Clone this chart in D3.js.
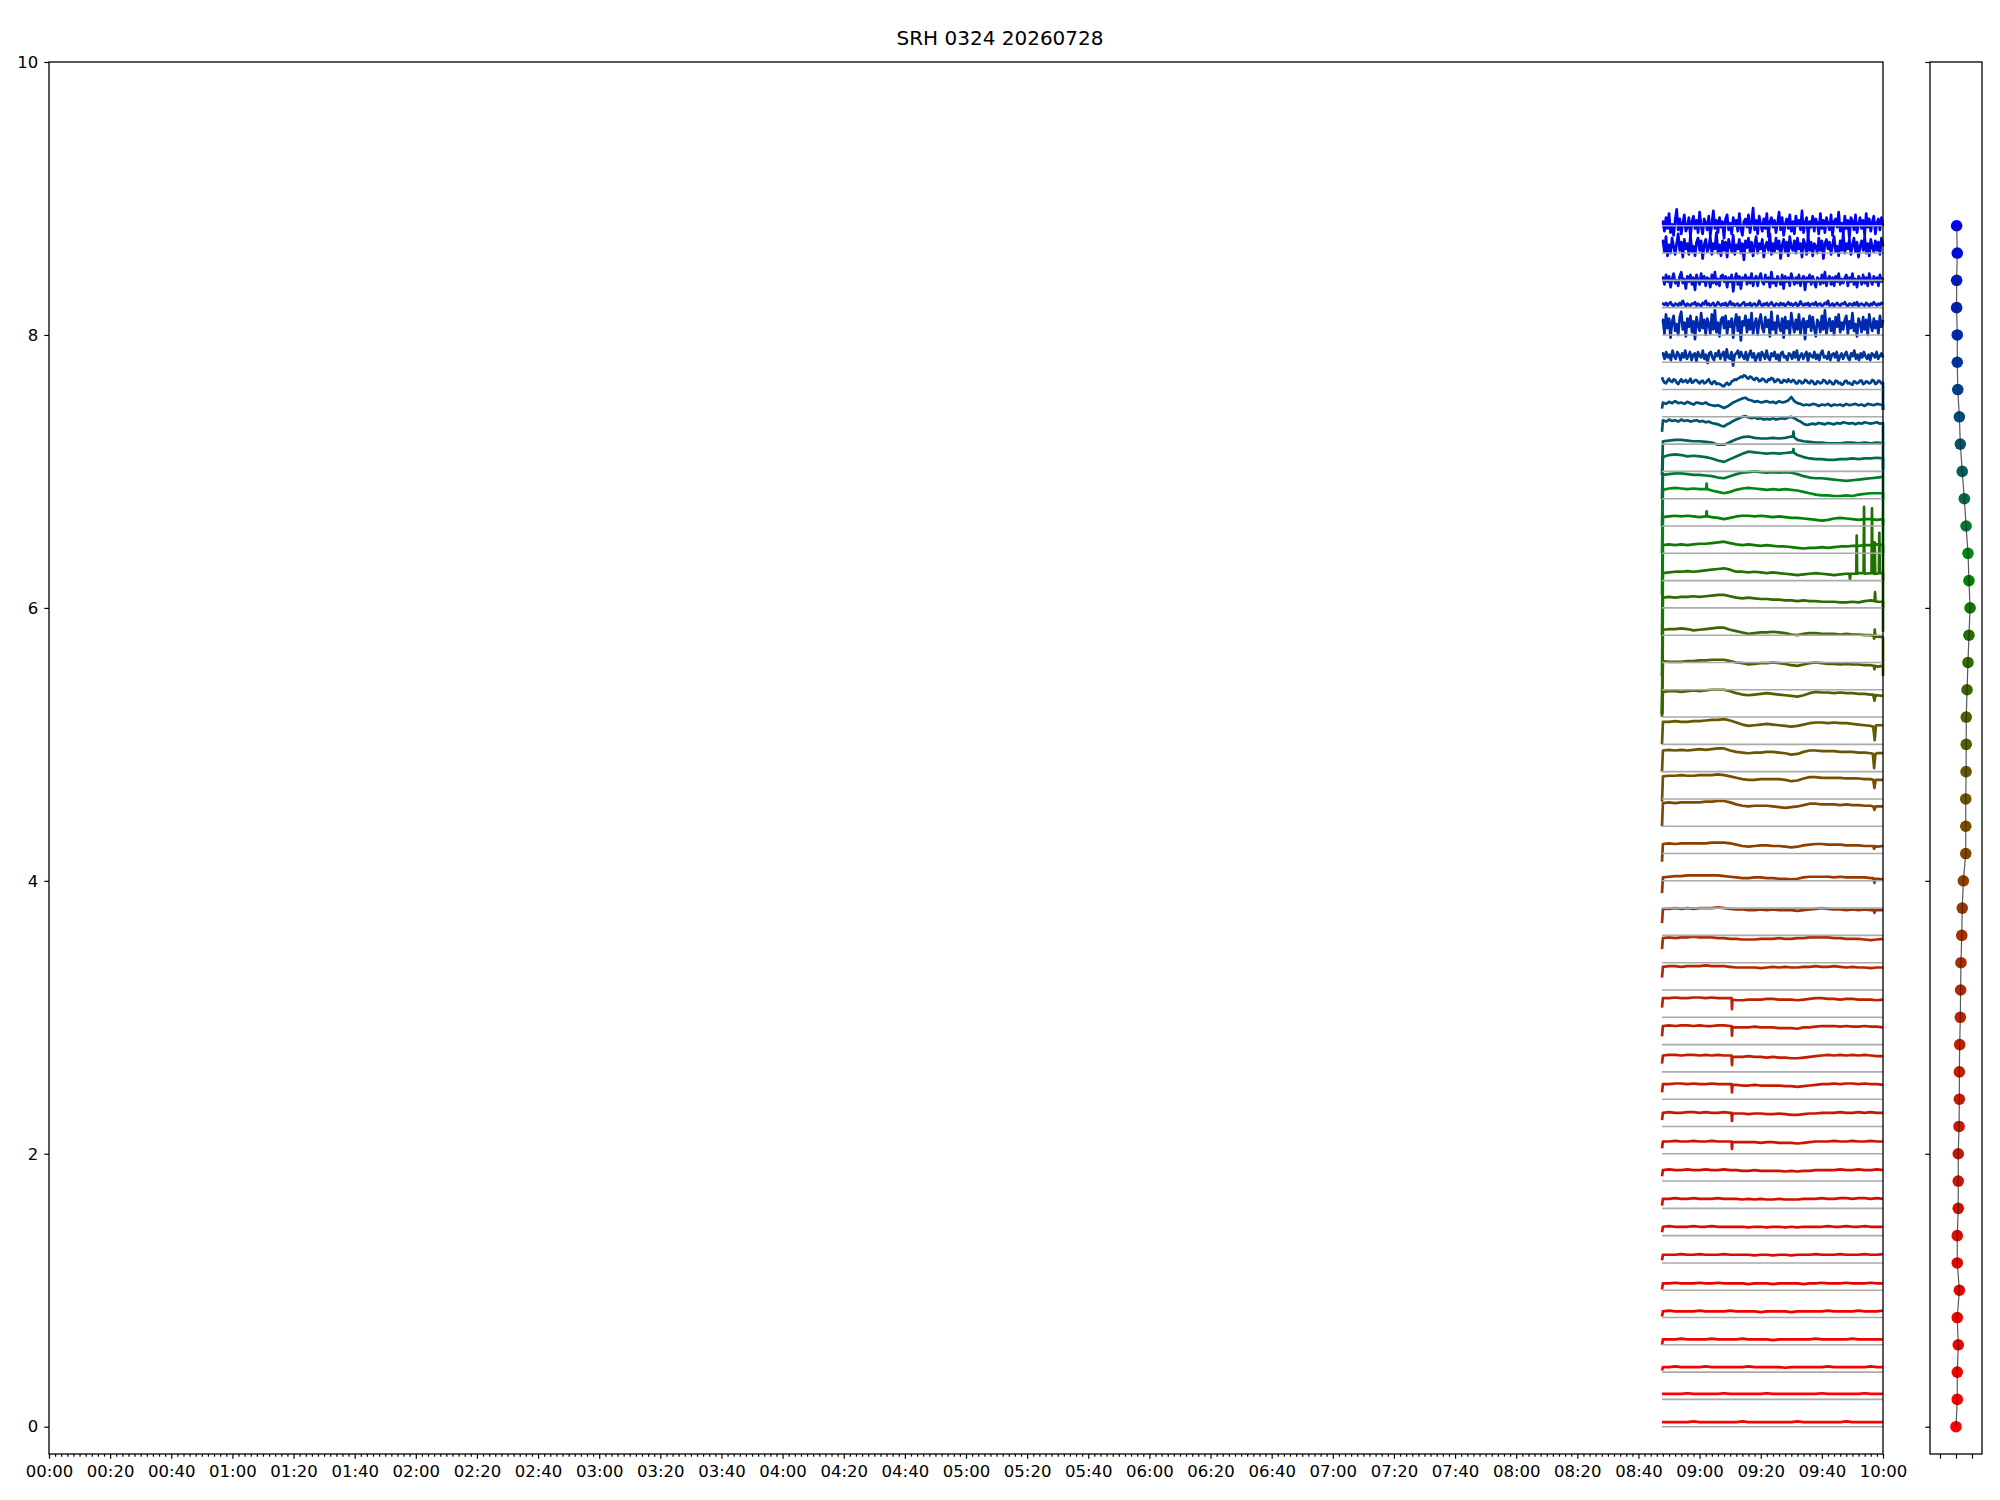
<!DOCTYPE html>
<html><head><meta charset="utf-8">
<script src="https://cdn.jsdelivr.net/npm/d3@7/dist/d3.min.js"></script>
<style>body{margin:0;background:#fff}</style>
</head><body>
<svg id="c" width="2000" height="1500"></svg>
<script>
// ---------------- DATA ----------------
const chartTitle = "SRH 0324 20260728";
const xTickMinutes = [0,20,40,60,80,100,120,140,160,180,200,220,240,260,280,300,320,340,360,380,400,420,440,460,480,500,520,540,560,580,600];
const xTickLabels = ["00:00","00:20","00:40","01:00","01:20","01:40","02:00","02:20","02:40","03:00","03:20","03:40","04:00","04:20","04:40","05:00","05:20","05:40","06:00","06:20","06:40","07:00","07:20","07:40","08:00","08:20","08:40","09:00","09:20","09:40","10:00"];
const yTicks = [0,2,4,6,8,10];
const sideXTicks = [-1,0,1];

// time span of the recording (minutes after 00:00)
const traceStart = 527.7, gridStart = 528, traceEnd = 600;

// channel baselines (grey zero lines)
const baselines = [0,0.2,0.4,0.6,0.8,1.0,1.2,1.4,1.6,1.8,2.0,2.2,2.4,2.6,2.8,3.0,3.2,3.4,3.6,3.8,4.0,4.2,4.4,4.6,4.8,5.0,5.2,5.4,5.6,5.8,6.0,6.2,6.4,6.6,6.8,7.0,7.2,7.4,7.6,7.8,8.0,8.2,8.4,8.6,8.8];
// mean level of each trace
const levels = [0.034,0.24,0.437,0.64,0.845,1.05,1.26,1.465,1.67,1.88,2.09,2.30,2.51,2.72,2.936,3.14,3.37,3.58,3.795,4.03,4.27,4.57,4.77,4.955,5.17,5.39,5.61,5.84,6.075,6.26,6.46,6.67,6.87,6.98,7.11,7.226,7.365,7.50,7.66,7.845,8.07,8.22,8.40,8.64,8.80];
// first sample (hundredths relative to level), null = none
const firstSample = [null,null,-2.5,-4,-3.7,-4.4,-4,-4,-5,-4.5,-5,-5.4,-6,-6,-7.5,-7,-8,-8,-10.5,-12,-13,-17,-19,-15.5,-17,-19,-39,-62,-85,-76,-66,-57,-47,-38,-31,-25,-7.5,-4,3,null,null,null,null,null,null];
// last sample (hundredths relative to level), null = none
const lastSample = [null,null,null,null,null,null,null,null,null,null,null,null,null,null,null,null,null,null,null,null,null,null,null,null,null,null,null,-34,-25,-26,-26,-27,-27,-19,-15,-21,-17,-5,-21,null,null,null,null,null,null];
// side panel values per channel
const sideValues = [0.00,0.08,0.08,0.14,0.08,0.21,0.08,0.08,0.14,0.14,0.14,0.19,0.21,0.21,0.23,0.27,0.29,0.31,0.36,0.39,0.46,0.61,0.61,0.61,0.63,0.64,0.64,0.69,0.75,0.81,0.88,0.81,0.75,0.63,0.52,0.39,0.27,0.21,0.11,0.08,0.08,0.04,0.04,0.08,0.04];

// trace samples in hundredths relative to level, evenly spaced from 08:48 to 10:00
const traces = [
[0,0,0,0,0,0.5,0,0,0,0,0,0,0,0.5,0,0,0,0,0,0,0,0,0.5,0,0,0,0,0,0,0,0.5,0,0,0,0,0,0],
[0,0,0,0,0.5,0,0,0,0,0,0.5,0,0,0,0,0,0,0.5,0,0,0,0,0,0,0,0,0.5,0,0,0,0,0,0,0.5,0,0,0],
[0,0,0.5,0,0,0,0,0.5,0,0,0,0,0,0,0.5,0,0,0,0,0,-0.5,0,0,0,0,0,0,0.5,0,0,0,0,0,0,0.5,0,0],
[0,0,0,0.5,0,0,0,0,0.5,0,0,0,0,0.5,0,0,0,0,-0.5,0,0,0,0,0,0,0.5,0,0,0,0,0,0.5,0,0,0,0,0],
[0,0.5,0,0,0,0,0.5,0,0,0,0,0.5,0,0,0,0,-0.5,0,0,0,0,-0.5,0,0,0,0,0,0.5,0,0,0,0,0.5,0,0,0,0.5],
[0,0,0.5,0,0,0,0.5,0,0,0.5,0,0,0,0,-0.5,0,0,0,-0.5,0,0,0,0,-0.5,0,0,0.5,0,0,0,0.5,0,0,0,0.5,0,0],
[0,0,0,0.5,0,0,0.5,0,0,0,0.5,0,0,0,0,-0.5,0,0,-0.5,0,0,-0.5,0,0,0,0.5,0,0,0,0.5,0,0,0,0.5,0,0,0.5],
[0,0.5,0,0,0,0.5,0,0,0.5,0,0,0,0,0,-0.5,0,0,-0.5,0,0,-0.5,0,-0.5,0,0,0,0,0.5,0,0,0.5,0,0,0.5,0,0,0],
[0,0,0.5,0,0,0.5,0,0,0,0.5,0,0,0,-0.5,0,-0.5,0,-0.5,-0.5,0,-0.5,-0.5,-0.5,0,0,0,0.5,0,0,0.5,0.5,0,0.5,0.5,0,0.5,0],
[0,0.5,0,0,0.5,0,0,0.5,0,0,0.5,0,0,-0.5,-0.5,0,-0.5,-0.5,-0.5,-0.5,-1,-0.5,-1,-0.5,-0.5,0,0,0,0,0.5,0,0,0.5,0,0,0.5,0],
[0,0,0.5,0,0,0.5,0,0,0.5,0,0,0,-0.5,-0.5,-0.5,-0.5,-1,-0.5,-0.5,-1,-1,-1,-1.5,-1,-0.5,0,0,0,0.5,0,0,0.5,0,0,0.5,0,0],
[0,0.5,0,0,0.5,0.5,0,0.5,0,0,0.5,0,-0.5,-0.5,-1,-0.5,-0.5,-1,-1,-0.5,-1,-1.5,-1.5,-1,-0.5,-0.5,0,0,0,0.5,0,0,0.5,0,0.5,0,0],
[0,0,0.5,0.5,0,0.5,0,0,0.5,0,0,0,-0.5,-1,-1,-0.5,-1,-1,-1,-1,-1.5,-1.5,-2,-1.5,-1,-0.5,0,0,0.5,0,0.5,0.5,0,0.5,0,0,-0.5],
[0,0.5,0.5,0,0.5,0.5,0,0.5,0,0.5,0,0,-1,-1,-0.5,-1,-1,-1.5,-1,-1.5,-1.5,-2,-2,-1.5,-1,-0.5,0,0.5,0,0.5,0,0.5,0,0.5,0,-0.5,-0.5],
[0,0.5,0,0.5,0.5,0,0.5,0,0,0.5,0.5,0,-1,-1,-1,-0.5,-1,-1,-1,-1.5,-1.5,-1.5,-2,-1,-1,-0.5,0,0,0,-0.5,0,-0.5,-0.5,0,-0.5,-0.5,-1],
[0,0,0.5,0,0,0.5,0.5,0,0.5,0,0,0,-1.5,-1.5,-1,-1,-1,-0.5,-0.5,-1,-1,-1,-1.5,-1,-0.5,0,0,-0.5,-0.5,-1,-0.5,-0.5,-1,-1,-1,-1.5,-1],
[0,0.5,0.5,0,0.5,0.5,0.5,1,0.5,0.5,0.5,0,-0.5,-0.5,-0.5,-0.5,-1,-0.5,0,-0.5,0,-0.5,-0.5,0,0,0.5,0,0,0.5,0,-0.5,0,-0.5,-0.5,-1,-0.5,-0.5],
[0,0.5,0,0.5,0.5,1,0.5,0.5,0.5,0,0,-0.5,-0.5,-1,-1,-1,-0.5,-0.5,-0.5,0,-0.5,-0.5,0,0,0.5,0.5,0.5,0.5,0,0,-0.5,-0.5,-0.5,-1,-1.5,-1,-0.5],
[0,0,0.5,0,0.5,0,0.5,0.5,0.5,1,0.5,0,-0.5,-0.5,-1,-1,-0.5,-1,-0.5,-1,-1,-1,-1.5,-1,-0.5,0,0.5,0,-0.5,-0.5,-1,-0.5,-1,-0.5,-1,-1,-1],
[-0.5,0,0.5,0.5,1,1,1,1,1,1,0.5,0,-0.5,-1,-1,-0.5,-0.5,-1,-1,-1.5,-1.5,-2,-1.5,-0.5,0,0,0,0,-0.5,0,-0.5,-0.5,-0.5,-0.5,-1,-1.5,-2],
[0,0.5,0,0.5,0.5,0.5,0.5,0.5,1,1,1,0.5,-0.5,-1.5,-2,-1.5,-1,-1,-1.5,-1.5,-2,-2.5,-2,-1,-0.5,0,0,-0.5,-0.5,-0.5,-1,-1,-1,-1.5,-1.5,-2,-1.5],
[0,0.5,0,0.5,0.5,0.5,0.5,1,1,1.5,1.5,0.5,-1,-2,-2.5,-2,-2,-2,-2.5,-3,-3.5,-3,-2.5,-1.5,-0.5,-0.5,-1,-1,-1,-1.5,-1,-1.5,-1.5,-2,-2,-2.5,-2.5],
[-0.5,0,0,0.5,0,0,0.5,0.5,0.5,1,0.5,-0.5,-1.5,-2.5,-3,-3,-2.5,-2.5,-2.5,-2.5,-3,-4,-3.5,-2,-1,-1,-1.5,-1.5,-1.5,-1.5,-2,-2,-2,-2.5,-2.5,-3,-3],
[0,0.5,0,0.5,0,0.5,1,0.5,1,1.5,1.5,0,-1,-1.5,-2,-1.5,-1.5,-1,-1,-1.5,-2,-3,-2.5,-1,0,0,-0.5,-0.5,-0.5,-1,-1,-1,-1.5,-1.5,-2,-2,-2],
[-0.5,-0.5,0,-0.5,-0.5,0,0,0.5,1,1,1.5,0.5,-1,-2.5,-3.5,-3,-2.5,-2,-2.5,-3,-3.5,-4,-3.5,-2.5,-1.5,-1,-1,-1.5,-1,-1.5,-1.5,-2,-2.5,-3,-3.5,-3,-3],
[-0.5,0,0,-0.5,0,0.5,0,0.5,1,1,1,0,-1.5,-2.5,-3,-2.5,-2,-1.5,-2,-2.5,-3,-3.5,-4,-3,-1.5,-0.5,-1,-1,-1.5,-1,-1.5,-1.5,-2,-2,-2.5,-3,-3.5],
[0,-0.5,-0.5,-0.5,0,0,0.5,0.5,1,1,1,0,-1,-1.5,-2.5,-2,-1.5,-1.5,-1,-1.5,-2,-3,-3.5,-2.5,-1.5,-1,-1.5,-2,-2,-2.5,-2,-2.5,-2.5,-3,-3,-4,-3.5],
[0,0.5,0.5,1,0.5,-0.5,0,0.5,1,1.5,1.5,0,-1,-2,-3,-2.5,-2,-2,-1.5,-2,-2.5,-3.5,-4,-3,-2.5,-2.5,-3,-3,-3,-3.5,-3,-3.5,-3.5,-4,-4,-5,-5.5],
[0,0.5,0,0.5,0.5,1,0.5,1,1.5,2,2,1,0,-0.5,0,-0.5,-1,-1,-1.5,-1.5,-2,-2,-2.5,-2,-2.5,-2.5,-3,-3,-3,-3.5,-3.5,-3,-3.5,-2.5,-2,-3,-3],
[-0.5,0,0.5,0.5,1,0.5,1,1.5,2,2.5,3,2,0.5,0.5,0,0.5,0,-0.5,0,-0.5,-1,-1.5,-2,-1.5,-1,-0.5,-1,-1.5,-2,-1.5,-1,-1,-0.5,-1,-0.5,-1,-0.5],
[0,0.5,0,0.5,0,0.5,1,1,1.5,2,2.5,1.5,0.5,0,0.5,0,-0.5,0,-0.5,-1,-1,-1.5,-2,-2.5,-2,-2,-1.5,-2,-1.5,-1,-1,-0.5,-0.5,0,0,0.5,0],
[-0.5,0,0.5,0,0.5,0,-0.5,0,-0.5,-1,-2,-1,0,0.5,0.5,0,0.5,0,-0.5,0,-0.5,-1,-1,-1.5,-2,-2.5,-3,-2.5,-1.5,-1,-1.5,-2,-2.5,-2,-2,-2.5,-2],
[-0.5,0.5,1,0.5,0,0.5,0,0,-1,-2,-3,-2,-0.5,0.5,1,0.5,0,-0.5,0,-0.5,0,-0.5,-1,-2,-3,-4,-4.5,-4.5,-5,-5,-4.5,-5,-4,-3.5,-3,-3,-3],
[-0.5,0,0.5,0.5,0,-0.5,-0.5,-1,-1.5,-2.5,-3,-1.5,0,1,1.5,2,1.5,1,1.5,1,1.5,1,0,-1.5,-2.5,-3,-3,-3.5,-4,-4.5,-5,-4.5,-4,-3.5,-3,-2.5,-2],
[-0.5,1,1.5,1,0,0.5,0,-0.5,-1.5,-3,-4,-2,0,2,3.5,3,2.5,2,2.5,2,2.5,3,1,-0.5,-1.5,-2,-2,-2.5,-2.5,-2,-2,-1.5,-2,-1.5,-1.5,-1,-1.5],
[-0.5,0,0.5,0.5,0,-0.5,-0.5,-1,-1.5,-3,-3,-1,1,2.5,3,2,1.5,1.5,2,1.5,2,3,0.5,-0.5,-1,-1.5,-1.5,-2,-2,-2,-1.5,-1.5,-2,-1.5,-2,-1.5,-2],
[1,0,1.5,0.5,1,0,1.5,0.5,1,0,0.5,1,0,0.5,-0.5,0,-1,-1.5,-2,-3,-3.5,-2,-1,0.5,1.5,2.5,3.5,4,3,2.5,3,2,2.5,1.5,2,1.5,2.5,1.5,2,2.5,2,3,3.5,2.5,1,0,-1.5,-2.5,-2,-1.5,-2,-1,-1.5,-2,-1,-1.5,-2,-1,-1.5,-0.5,-1,-1.5,-1,-2,-1,-1.5,-0.5,-1,-1.5,-1,-0.5,-1.5,-1],
[0.5,-0.5,1,0,1.5,0,0.5,-0.5,1,0,-1,0.5,0,-0.5,0.5,-1,-1.5,-2,-1.5,-2.5,-3.5,-2.5,-1,0.5,1.5,2.5,3.5,4,2.5,2,1,1.5,0.5,1,1.5,0.5,1,0,1.5,0.5,1,2,4.5,1.5,0,-0.5,-1.5,-1,-1.5,-0.5,-1,-2,-1,-1.5,-0.5,-2,-1,-1.5,-1,-2,-0.5,-1.5,-1,-0.5,-1.5,-1,-2,-0.5,-1,-1.5,-0.5,-1,-1.5],
[1,-1,-1.5,0.5,2,0,-0.5,1.5,1,-1,-2,0,1.5,-0.5,0,1,-1,0,2,-1,-0.5,1,1,-0.5,-1.5,0,0.5,-1.5,-1,0.5,1.5,-1,-2,-0.5,0,-2,-1.5,-2,-2.5,-3.5,-3.5,-2,-1,-2.5,-2,0,0.5,1.5,1,2,2.5,3.5,3,4.5,4,2.5,2,3.5,3,1.5,1,2.5,2,0,0.5,2,1.5,0,-0.5,1.5,1,2.5,2,-0.5,0,1.5,1,-1,-1,1,0.5,-0.5,1.5,0,-0.5,1,0.5,-1.5,-1.5,0.5,0,-1.5,-1,1,0.5,-1,-1.5,0.5,0,-2,-2,0,-0.5,-1.5,-1,1,0.5,-1.5,-1.5,0.5,-0.5,-2,-2,0.5,0,-1.5,-1,-2.5,-2,0,0.5,-1.5,-1,-2,-2.5,0,-0.5,-1.5,-1,0.5,0.5,-2,-1.5,0,-0.5,-1.5,-1,1,0.5,-2,-1.5,0.5,0,-1.5,-1],
[2,-2,3,-1,1,-3,4,0,-2,3,1,-3,2,-1,4,-2,0,3,-3,1,2,-4,3,0,-1,4,-2,1,-5,2,3,-1,-3,2,0,4,-2,1,3,-3,5,-1,-2,3,-7,1,2,4,-1,3,0,-2,3,-3,1,4,-1,2,-4,0,2,-3,3,1,-2,4,-1,-3,2,0,3,-2,1,-4,2,3,-1,0,-3,2,1,-2,3,-1,4,-3,0,2,-2,1,3,-4,2,0,-1,3,-2,1,-3,2,4,-1,0,-2,3,-3,1,2,-1,3,-4,0,2,-2,1,3,-1,-3,2,0,4,-2,1,-3,2,-1,3,0,-2,1,-3,2,1,-1,3,-2,0,2,-1],
[4,-6,8,-2,5,-9,3,7,-4,1,-7,6,10,-3,2,-8,5,-1,7,-5,3,-10,6,0,-4,9,-2,4,-7,5,1,-6,8,-3,11,-5,2,-8,4,6,-2,7,-6,3,-1,5,-9,2,8,-4,6,-11,3,0,7,-5,4,-3,9,-6,1,5,-7,3,8,-2,-5,6,-1,4,-8,10,-3,2,-6,7,0,-4,5,-9,6,-2,3,-7,9,1,-5,4,-3,8,-6,2,5,-10,3,-1,7,-4,6,-2,-8,4,2,-5,7,-3,11,-6,1,5,-4,3,-7,6,-1,8,-5,2,-3,4,7,-6,3,-2,9,-4,1,-8,5,2,-5,6,-3,4,-7,8,0,-4,5,-2,3,-6,7,-1,4],
[1,0,1.5,-0.5,1,2,0,-1,1,0.5,-0.5,1.5,0,3,0.5,-1,1,0,-0.5,1,0.5,2,-0.5,1,0,-1,1.5,0.5,3,0,1,-0.5,0.5,1.5,-1,0,2,0.5,-0.5,1,0,1.5,-1,0.5,2.5,0,1,-0.5,0.5,1,-1.5,0,1,2,-0.5,0.5,0,1.5,-1,0.5,1,-0.5,0,3,0.5,-1,1,0,1.5,-0.5,0.5,2,0,-1,1,0.5,-0.5,1.5,0,1,-1,0.5,2,0,1,-0.5,0.5,1.5,-1,0,2.5,0.5,-0.5,1,0,1.5,-1,0.5,1,0,2,-0.5,0.5,1,-1,0,1.5,0.5,3,-0.5,0,1,-1,0.5,1.5,0,-0.5,1,0.5,2,0,-1,1,0.5,-0.5,1.5,0,2,-1,0.5,1,0,-0.5,1.5,0.5,-1,1,0,2,0.5,-0.5,1,0,1.5,0.5],
[2,-3,4,-1,3,-5,1,5,-2,0,-4,3,6,-2,1,-6,3,-1,4,-3,2,-7,4,0,-3,5,-1,3,-4,2,1,-5,4,-2,6,-3,1,-4,3,4,-1,3,-5,2,-1,4,-8,1,5,-3,3,-6,2,0,4,-3,2,-2,5,-4,1,3,-4,2,5,-1,-3,4,-1,2,-5,6,-2,1,-4,3,0,-3,4,-6,3,-1,2,-4,5,1,-3,2,-2,4,-4,1,3,-7,2,-1,4,-3,3,-1,-5,2,1,-3,4,-2,6,-4,1,3,-3,2,-4,3,-1,5,-3,1,-2,2,4,-4,2,-1,5,-3,1,-5,3,1,-3,4,-2,2,-4,5,0,-3,3,-1,2,-4,4,-1,2],
[5,-3,8,-6,2,-4,7,1,-5,3,10,-2,4,-7,6,-1,3,-5,9,-3,1,-6,4,7,-2,5,-8,2,6,-3,0,8,-5,3,-1,11,-4,2,-6,5,-2,4,-7,6,1,-3,9,-5,2,-1,6,-4,3,-9,5,0,7,-3,4,-6,2,8,-4,3,-1,6,-7,1,4,-2,10,-5,3,-3,7,-1,5,-8,2,6,-3,4,-6,8,0,-2,5,-4,7,-1,3,-7,6,2,-5,9,-2,4,-6,3,1,-4,7,-2,5,-8,3,6,-1,4,-5,2,8,-3,1,-6,5,-2,10,-4,3,-1,6,-5,2,7,-3,4,-7,1,5,-2,8,-4,3,-6,6,0,-3,5,-2,4,-5,7,1],
[3,-4,6,-2,9,-5,1,-7,4,12,-3,5,-6,2,8,-4,-1,6,-8,3,7,-2,4,-5,10,0,-6,5,2,-3,7,-7,1,11,-2,4,-5,6,-1,3,-9,5,8,-3,2,-6,6,0,4,-4,9,-2,-7,3,5,-1,8,-5,2,13,-3,4,-6,7,1,-4,5,-2,9,-8,3,6,-1,4,-5,2,10,-3,6,-7,1,5,-2,8,-4,3,-6,7,0,4,-3,11,-5,2,6,-8,3,-1,7,-4,5,2,-6,9,-2,4,-5,6,1,-3,8,-7,3,5,-1,10,-4,2,-6,7,-2,4,-9,6,3,-3,8,-5,1,6,-2,4,-7,9,-1,5,-4,3,7,-6,2,5,-3,6,0]
];

// isolated spikes and dips: [channel, minute, hundredths relative to level]
const events = [
[10,550.45,0],[10,550.6,-5.5],[10,550.75,-0.5],
[11,550.45,0],[11,550.6,-6],[11,550.75,-0.5],
[12,550.45,0],[12,550.6,-6],[12,550.75,-0.5],
[13,550.45,0],[13,550.6,-7],[13,550.75,-1],
[14,550.45,0],[14,550.6,-7],[14,550.75,-1],
[15,550.45,0],[15,550.6,-8],[15,550.75,-1],
[18,596.9,-1],[18,597.2,-3],[18,597.5,-1],
[19,596.8,-1],[19,597.2,-4.5],[19,597.5,-1.5],
[20,596.8,-1.5],[20,597.1,-3.5],[20,597.4,-1.5],
[21,596.8,-2.5],[21,597.2,-5],[21,597.6,-2.5],
[22,596.8,-3],[22,597.2,-9],[22,597.6,-3],
[23,596.7,-2.5],[23,597.1,-13],[23,597.5,-2.5],
[24,596.8,-4],[24,597.3,-14],[24,597.7,-3],
[25,596.8,-2.5],[25,597.2,-7],[25,597.6,-3],
[26,597.0,-3.5],[26,597.2,-6],[26,597.4,-3.5],
[27,596.9,-4.5],[27,597.1,-6.5],[27,597.3,0],[27,597.5,-5],
[28,597.25,-2.5],[28,597.4,4],[28,597.55,-2.5],
[29,589.0,-1],[29,589.2,-5],[29,589.4,-1],
[29,591.25,-1],[29,591.4,27],[29,591.55,-1],
[29,593.65,-0.5],[29,593.8,48],[29,593.95,-0.5],
[29,596.25,-0.5],[29,596.4,47],[29,596.55,-0.5],
[29,597.15,-1],[29,597.3,22],[29,597.45,-1],
[29,598.65,-0.5],[29,598.8,29],[29,598.95,-0.5],
[31,542.15,0],[31,542.3,3.7],[31,542.45,0],
[32,542.15,0],[32,542.3,4],[32,542.45,0],
[34,570.55,3],[34,570.7,5.4],[34,570.85,2.8],
[35,570.55,2.8],[35,570.7,6.6],[35,570.85,2.6]
];

// ---------------- STYLE ----------------
const colorStops = [[0,"#ff0000"],[5,"#e30600"],[10,"#cc1500"],[15,"#bc2400"],[18,"#a83000"],[20,"#8c4000"],[22,"#765000"],[24,"#645800"],[26,"#4e6000"],[28,"#326a00"],[30,"#127800"],[31,"#008200"],[32,"#008814"],[33,"#007a30"],[34,"#006c48"],[35,"#00605c"],[36,"#00566c"],[37,"#004c7c"],[38,"#00428a"],[39,"#00369c"],[40,"#002aae"],[41,"#0020c0"],[42,"#0014d4"],[43,"#0008e8"],[44,"#0000ff"]];
const FONT = "DejaVu Sans, sans-serif";
const main = {l:49, r:1883, t:62, b:1454};
const side = {l:1930, r:1982};

// ---------------- DRAW ----------------
const svg = d3.select("#c");
const x = d3.scaleLinear().domain([0,600]).range([main.l, main.r]);
const y = d3.scaleLinear().domain([-0.2,10]).range([main.b, main.t]);
const xs = d3.scaleLinear().domain([-1.625,1.625]).range([side.l, side.r]);
const color = d3.scaleLinear().domain(colorStops.map(d=>d[0])).range(colorStops.map(d=>d[1])).interpolate(d3.interpolateRgb);

const line = d3.line().x(d=>x(d[0])).y(d=>y(d[1]));

const gTr = svg.append("g");
baselines.forEach((b,i)=>{
  const vals = traces[i];
  const n = vals.length;
  let pts = vals.map((v,j)=>[gridStart + j*(traceEnd-gridStart)/(n-1), v]);
  events.filter(e=>e[0]===i).forEach(e=>pts.push([e[1], e[2]]));
  pts.sort((a,b)=>a[0]-b[0]);
  if (firstSample[i] !== null) pts.unshift([traceStart, firstSample[i]]);
  else pts.unshift([traceStart, vals[0]]);
  if (lastSample[i] !== null) pts.push([traceEnd, lastSample[i]]);
  const abs = pts.map(p=>[p[0], levels[i] + p[1]/100]);
  gTr.append("path").attr("d", line(abs))
    .attr("fill","none").attr("stroke", color(i))
    .attr("stroke-width",2.7).attr("stroke-linejoin","round");
});

const gGr = svg.append("g");
baselines.forEach(b=>{
  gGr.append("path").attr("d", line([[traceStart,b],[traceEnd,b]]))
    .attr("fill","none").attr("stroke","#aaaaaa").attr("stroke-width",1.6);
});

// main frame + axes
svg.append("rect").attr("x",main.l).attr("y",main.t).attr("width",main.r-main.l).attr("height",main.b-main.t)
  .attr("fill","none").attr("stroke","#000").attr("stroke-width",1.3);

const minorTicks = d3.range(0,601,2).filter(m=>m%20!==0);
const gxMinor = svg.append("g").attr("transform",`translate(0,${main.b})`)
  .call(d3.axisBottom(x).tickValues(minorTicks).tickSize(2.7).tickFormat(""));
const gx = svg.append("g").attr("transform",`translate(0,${main.b})`)
  .call(d3.axisBottom(x).tickValues(xTickMinutes).tickSize(4.7).tickPadding(7).tickFormat((d,i)=>xTickLabels[i]));
const gy = svg.append("g").attr("transform",`translate(${main.l},0)`)
  .call(d3.axisLeft(y).tickValues(yTicks).tickSize(4.7).tickPadding(6).tickFormat(d3.format("d")));
[gxMinor,gx,gy].forEach(g=>{
  g.select(".domain").remove();
  g.selectAll("line").attr("stroke","#000").attr("stroke-width",1.2);
  g.selectAll("text").attr("font-family",FONT).attr("font-size",16.5).attr("fill","#000");
});

// side panel
svg.append("rect").attr("x",side.l).attr("y",main.t).attr("width",side.r-side.l).attr("height",main.b-main.t)
  .attr("fill","none").attr("stroke","#000").attr("stroke-width",1.3);
const sy = svg.append("g").attr("transform",`translate(${side.l},0)`)
  .call(d3.axisLeft(y).tickValues(yTicks).tickSize(4.7).tickFormat(""));
const sx = svg.append("g").attr("transform",`translate(0,${main.b})`)
  .call(d3.axisBottom(xs).tickValues(sideXTicks).tickSize(4.7).tickFormat(""));
[sy,sx].forEach(g=>{ g.select(".domain").remove(); g.selectAll("line").attr("stroke","#000").attr("stroke-width",1.2); });

svg.append("g").selectAll("circle").data(baselines).join("circle")
  .attr("cx",(d,i)=>xs(sideValues[i])).attr("cy",d=>y(d)).attr("r",5.8)
  .attr("fill",(d,i)=>color(i));
svg.append("path")
  .attr("d", d3.line().x((d,i)=>xs(sideValues[i])).y(d=>y(d))(baselines))
  .attr("fill","none").attr("stroke","#222").attr("stroke-opacity",0.75).attr("stroke-width",1.2);

// title
svg.append("text").attr("x",1000).attr("y",45).attr("text-anchor","middle")
  .attr("font-family",FONT).attr("font-size",20).attr("fill","#000").text(chartTitle);
</script>
</body></html>
